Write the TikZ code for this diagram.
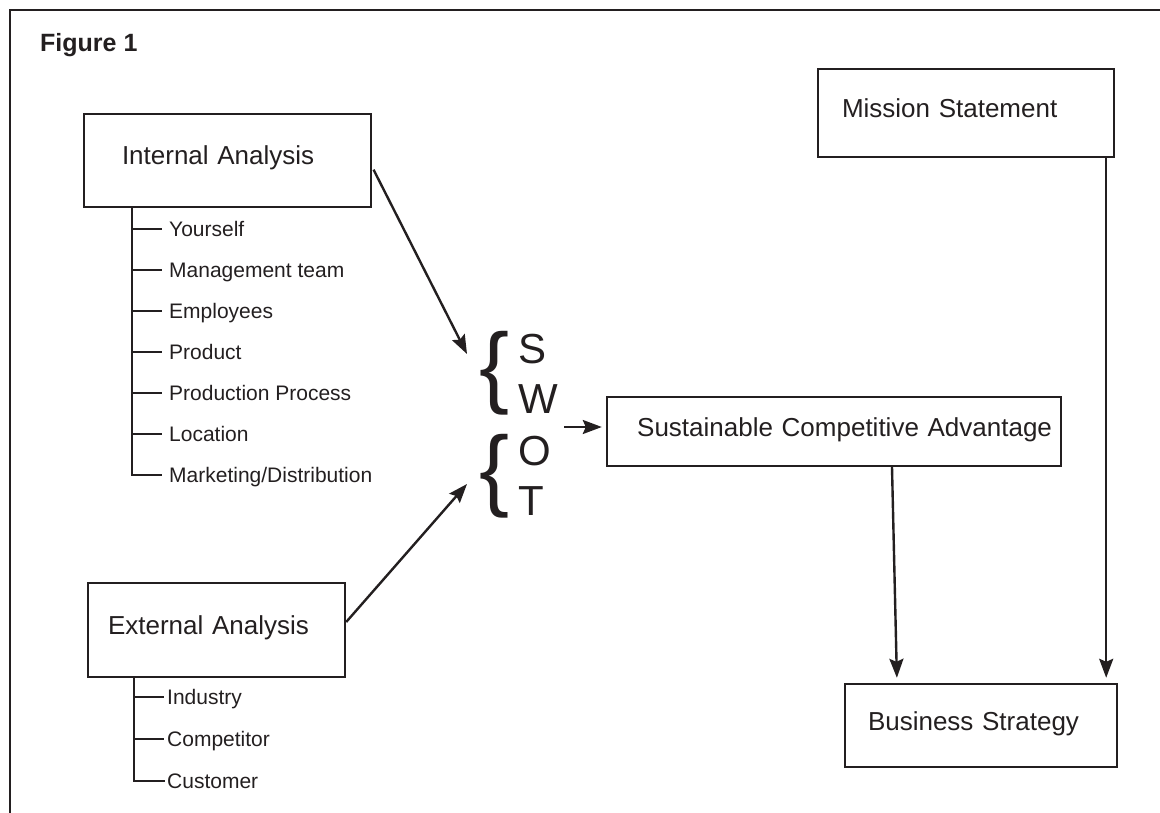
\documentclass[tikz,border=0pt]{standalone}
\usepackage{fontspec}
\setmainfont{Liberation Sans}
\usetikzlibrary{arrows.meta}
\definecolor{ink}{RGB}{35,31,32}

\begin{document}
\begin{tikzpicture}[x=1pt, y=-1pt,
  every node/.style={text=ink},
  box/.style={draw=ink, line width=2.4pt, inner sep=0pt, align=left, text height=19pt, text depth=10pt, font=\fontsize{26}{30}\selectfont},
  item/.style={anchor=west, inner sep=0pt, text height=15pt, text depth=0pt, font=\fontsize{21}{24}\selectfont},
  letter/.style={anchor=base west, inner sep=0pt, font=\fontsize{42}{42}\selectfont},
  curly/.style={anchor=base west, inner sep=0pt, font=\fontsize{90}{90}\selectfont},
  link/.style={draw=ink, line width=2.4pt},
  arrow/.style={link, -{Stealth[length=19pt, width=14pt, inset=3pt]}}]
\useasboundingbox (0,0) rectangle (1160,813);
\draw[link] (10,813) -- (10,10) -- (1160,10);
\node[anchor=base west, inner sep=0pt, font=\fontsize{25}{28}\selectfont\bfseries] (fig) at (40,52) {Figure 1};

\node[box, minimum width=287pt, minimum height=93pt, text width=211pt] (ia) at (227.5,160.5) {Internal Analysis};
\node[box, minimum width=257pt, minimum height=94pt, text width=217pt] (ea) at (216.5,630) {External Analysis};
\node[box, minimum width=296pt, minimum height=88pt, text width=248pt] (ms) at (966,113) {Mission Statement};
\node[box, minimum width=454pt, minimum height=69pt, text width=436pt, align=right] (sca) at (834,431.5) {Sustainable Competitive Advantage};
\node[box, minimum width=272pt, minimum height=83pt, text width=226pt] (bs) at (981,725.5) {Business Strategy};

\coordinate (ispine) at ([xshift=49pt]ia.south west);
\foreach \t [count=\i] in {Yourself, Management team, Employees, Product, Production Process, Location, Marketing/Distribution}
  \node[item] (int\i) at (169,{188+41*\i}) {\t};
\draw[link] (ispine) |- ([xshift=-7pt]int7.west);
\foreach \i in {1,...,6}
  \draw[link] (ispine |- int\i.west) -- ([xshift=-7pt]int\i.west);

\coordinate (espine) at ([xshift=47pt]ea.south west);
\foreach \t [count=\i] in {Industry, Competitor, Customer}
  \node[item] (ext\i) at (167,{655+42*\i}) {\t};
\draw[link] (espine) |- ([xshift=-2pt]ext3.west);
\foreach \i in {1,2}
  \draw[link] (espine |- ext\i.west) -- ([xshift=-3pt]ext\i.west);

\node[curly] (sw) at (479,396) {\{};
\node[curly] (ot) at (479,499) {\{};
\node[letter] (s) at (518,363) {S};
\node[letter] (w) at (518,413) {W};
\node[letter] (o) at (518,465) {O};
\node[letter] (t) at (518,515) {T};

\coordinate (swin) at (467,354);
\coordinate (otin) at (467,484);
\coordinate (swot) at (564,427);
\draw[arrow, shorten <=3pt] ([yshift=-6.5pt]ia.east) -- (swin);
\draw[arrow] ([yshift=8pt]ea.east) -- (otin);
\draw[arrow, shorten >=4pt] (swot) -- (swot -| sca.west);
\draw[arrow, shorten >=5pt] ([xshift=58pt]sca.south) -- ([xshift=-84pt]bs.north);
\draw[arrow, shorten >=5pt] ([xshift=-9pt]ms.south east) -- ([xshift=-12pt]bs.north east);
\end{tikzpicture}
\end{document}
